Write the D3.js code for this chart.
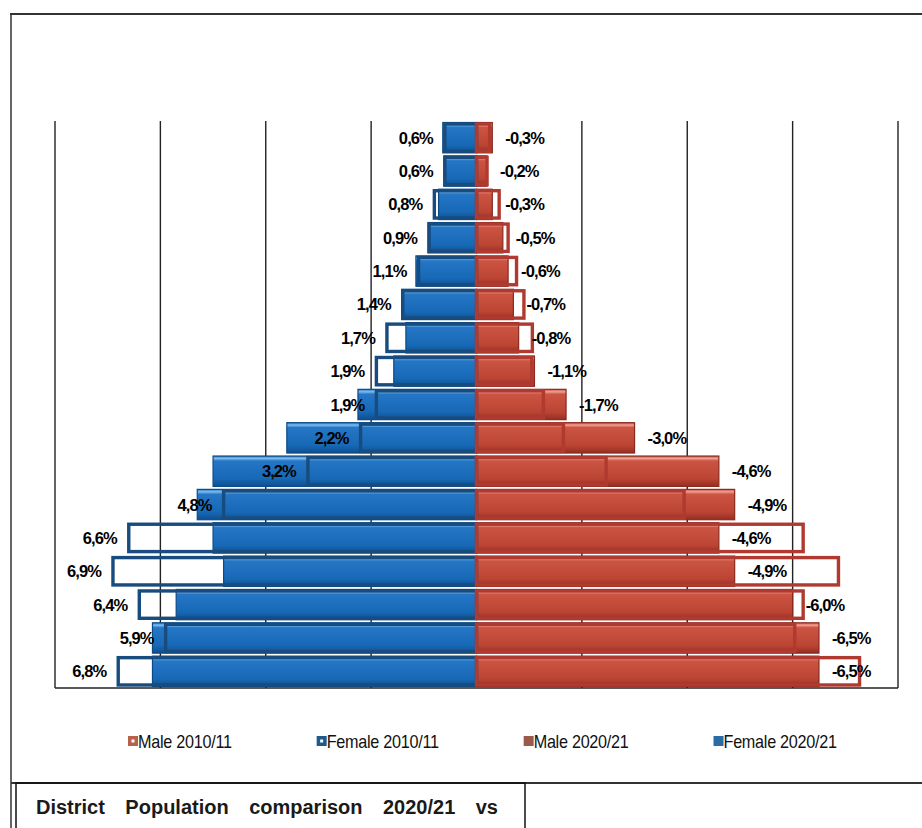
<!DOCTYPE html>
<html>
<head>
<meta charset="utf-8">
<script src="https://cdn.jsdelivr.net/npm/d3@7/dist/d3.min.js"></script>
<style>
  html, body { margin: 0; padding: 0; background: #fff; }
  svg { display: block; }
</style>
</head>
<body>
<svg id="chart" width="922" height="828"></svg>
<script>
// ---- data (top row = oldest age group, bottom row = youngest) ----
const ageGroups = ["80+","75-79","70-74","65-69","60-64","55-59","50-54","45-49","40-44",
                   "35-39","30-34","25-29","20-24","15-19","10-14","5-9","0-4"];
const female2010 = [0.6, 0.6, 0.8, 0.9, 1.1, 1.4, 1.7, 1.9, 1.9, 2.2, 3.2, 4.8, 6.6, 6.9, 6.4, 5.9, 6.8];
const female2020 = [0.64, 0.62, 0.72, 0.92, 1.15, 1.42, 1.34, 1.57, 2.25, 3.6, 5.0, 5.3, 5.0, 4.8, 5.7, 6.15, 6.15];
const male2010   = [-0.25, -0.2, -0.43, -0.6, -0.76, -0.9, -1.06, -1.05, -1.27, -1.65, -2.46, -3.94, -6.2, -6.87, -6.2, -6.04, -7.27];
const male2020   = [-0.3, -0.2, -0.3, -0.5, -0.6, -0.7, -0.8, -1.1, -1.7, -3.0, -4.6, -4.9, -4.6, -4.9, -6.0, -6.5, -6.5];
const gridTicks  = [-8, -6, -4, -2, 2, 4, 6, 8];
const legendItems = ["Male 2010/11", "Female 2010/11", "Male 2020/21", "Female 2020/21"];
const titleText = "District Population comparison 2020/21 vs";

// ---- setup ----
const svg = d3.select("#chart");
const defs = svg.append("defs");

function grad(id, stops) {
  const g = defs.append("linearGradient").attr("id", id)
    .attr("x1", 0).attr("y1", 0).attr("x2", 0).attr("y2", 1);
  stops.forEach(s => g.append("stop").attr("offset", s[0]).attr("stop-color", s[1]));
}
grad("blueG", [[0, "#2a7cca"], [0.08, "#7dbcf0"], [0.16, "#2577c6"], [0.75, "#1768b5"], [1, "#0e4f90"]]);
grad("redG",  [[0, "#c55748"], [0.08, "#f0a092"], [0.16, "#cc5443"], [0.75, "#bb4433"], [1, "#952e22"]]);

// frame
const frame = svg.append("g").attr("stroke", "#333").attr("fill", "none");
frame.append("line").attr("x1", 10).attr("x2", 922).attr("y1", 14).attr("y2", 14).attr("stroke-width", 2);
frame.append("line").attr("x1", 11).attr("x2", 11).attr("y1", 14).attr("y2", 828).attr("stroke-width", 1.5);
frame.append("line").attr("x1", 11).attr("x2", 922).attr("y1", 783).attr("y2", 783).attr("stroke-width", 2);
frame.append("rect").attr("x", 16).attr("y", 783).attr("width", 509).attr("height", 70)
  .attr("stroke", "#111").attr("stroke-width", 1.5);

// scales
const plotTop = 121, plotBottom = 688;
const x = d3.scaleLinear().domain([-8, 8]).range([55, 898]);
const y = d3.scaleBand().domain(ageGroups).range([plotTop, plotBottom]).paddingInner(0.09).paddingOuter(0.045);

// gridlines
svg.append("g").selectAll("line").data(gridTicks).join("line")
  .attr("x1", d => x(d)).attr("x2", d => x(d))
  .attr("y1", plotTop).attr("y2", plotBottom)
  .attr("stroke", "#222").attr("stroke-width", 1.4);
// bottom axis line
svg.append("line").attr("x1", x(-8)).attr("x2", x(8)).attr("y1", plotBottom).attr("y2", plotBottom)
  .attr("stroke", "#222").attr("stroke-width", 1.4);

const rows = ageGroups.map((a, i) => ({a, f10: female2010[i], f20: female2020[i], m10: male2010[i], m20: male2020[i]}));

// filled bars 2020/21
const bars = svg.append("g");
bars.selectAll(".f20").data(rows).join("rect")
  .attr("x", d => x(-d.f20)).attr("width", d => x(0) - x(-d.f20))
  .attr("y", d => y(d.a)).attr("height", y.bandwidth())
  .attr("fill", "url(#blueG)").attr("stroke", "#0b4a86").attr("stroke-width", 1.2);
bars.selectAll(".m20").data(rows).join("rect")
  .attr("x", x(0)).attr("width", d => x(-d.m20) - x(0))
  .attr("y", d => y(d.a)).attr("height", y.bandwidth())
  .attr("fill", "url(#redG)").attr("stroke", "#8a2a1f").attr("stroke-width", 1.2);

// outline bars 2010/11
const outl = svg.append("g").attr("fill", "none");
outl.selectAll(".f10").data(rows).join("rect")
  .attr("x", d => x(-d.f10)).attr("width", d => x(0) - x(-d.f10))
  .attr("y", d => y(d.a) + 1.5).attr("height", y.bandwidth() - 3)
  .attr("stroke", "#184b7e").attr("stroke-width", 3.4);
outl.selectAll(".m10").data(rows).join("rect")
  .attr("x", x(0)).attr("width", d => x(-d.m10) - x(0))
  .attr("y", d => y(d.a) + 1.5).attr("height", y.bandwidth() - 3)
  .attr("stroke", "#b03a30").attr("stroke-width", 3.4);

// labels
const fmt = v => d3.format(".1f")(v).replace(".", ",").replace("−", "-") + "%";
const lab = svg.append("g")
  .attr("font-family", "'Liberation Sans', Arial, sans-serif")
  .attr("font-weight", "bold").attr("font-size", 16.5).attr("letter-spacing", -0.9)
  .attr("fill", "#000");
lab.selectAll(".lf").data(rows).join("text")
  .attr("x", d => x(-d.f10) - 12).attr("y", d => y(d.a) + y.bandwidth() / 2 + 6)
  .attr("text-anchor", "end").text(d => fmt(d.f10));
lab.selectAll(".lm").data(rows).join("text")
  .attr("x", d => x(-d.m20) + 13).attr("y", d => y(d.a) + y.bandwidth() / 2 + 6)
  .attr("text-anchor", "start").text(d => fmt(d.m20));

// legend
const legColors = [
  {c: "#b9604c", hollow: true},
  {c: "#1e5b8c", hollow: true},
  {c: "#9a5a4c", hollow: false},
  {c: "#2a6ca8", hollow: false}
];
const legScale = 0.9;
const leg = svg.append("g").attr("transform", "translate(128,741)");
let lx = 0;
legendItems.forEach((t, i) => {
  const g = leg.append("g").attr("transform", `translate(${lx},0)`);
  g.append("rect").attr("x", 0).attr("y", -5).attr("width", 10).attr("height", 10).attr("fill", legColors[i].c);
  if (legColors[i].hollow) g.append("rect").attr("x", 3.5).attr("y", -1.5).attr("width", 3).attr("height", 3).attr("fill", "#fff");
  const tx = g.append("text").attr("transform", `translate(10,6.5) scale(${legScale},1)`)
    .attr("font-family", "'Liberation Sans', Arial, sans-serif")
    .attr("font-size", 18).attr("letter-spacing", -0.3).attr("fill", "#111").text(t);
  const w = tx.node().getComputedTextLength() * legScale;
  lx += 10 + w + 85;
});

// title (justified words)
const words = titleText.split(" ");
const tg = svg.append("g")
  .attr("font-family", "'Liberation Sans', Arial, sans-serif")
  .attr("font-weight", "bold").attr("font-size", 20).attr("fill", "#1a1a1a");
const tnodes = words.map(w => tg.append("text").attr("y", 814).text(w));
const widths = tnodes.map(n => n.node().getComputedTextLength());
const startX = 36, endX = 498;
const gap = (endX - startX - d3.sum(widths)) / (words.length - 1);
let cx = startX;
tnodes.forEach((n, i) => { n.attr("x", cx); cx += widths[i] + gap; });
</script>
</body>
</html>
